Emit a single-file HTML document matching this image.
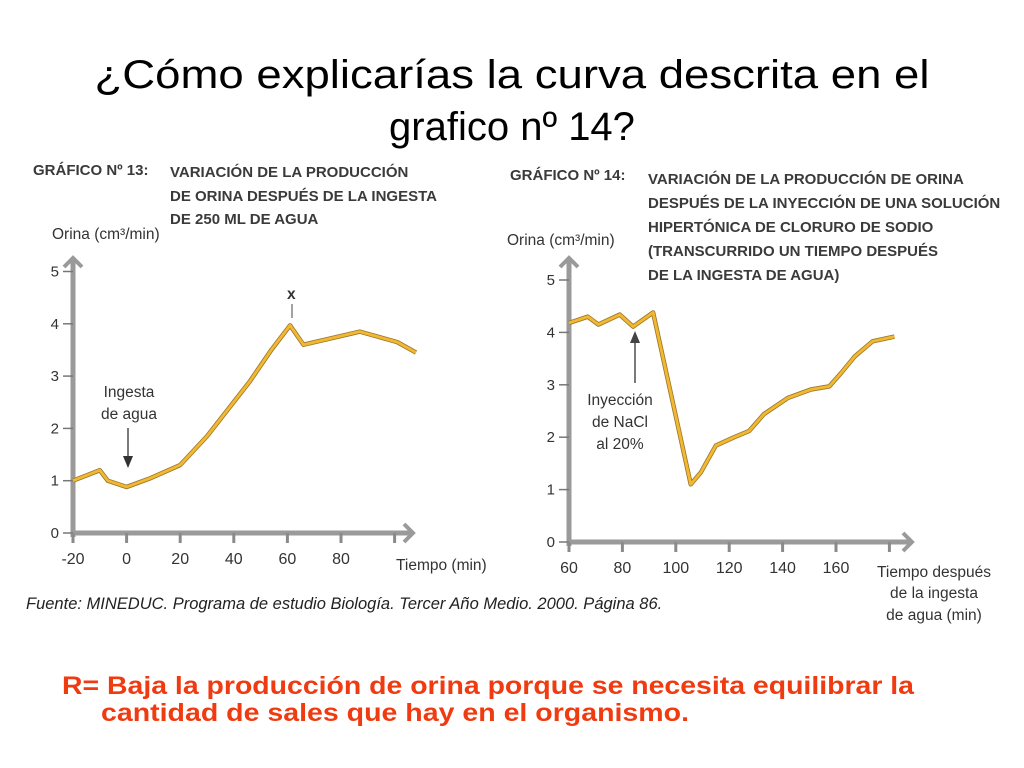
<!DOCTYPE html>
<html><head><meta charset="utf-8"><style>
body{margin:0;background:#fff;}
svg{display:block;font-family:"Liberation Sans",Arial,sans-serif;}
.lbl{font-size:15.5px;fill:#333;}
.hd{font-size:15px;font-weight:bold;fill:#3a3a3a;}
</style></head><body>
<svg id="s" width="1024" height="768">
<text x="512" y="88" text-anchor="middle" font-size="40" fill="#000" textLength="835" lengthAdjust="spacingAndGlyphs">¿Cómo explicarías la curva descrita en el</text>
<text x="512" y="140" text-anchor="middle" font-size="40" fill="#000">grafico nº 14?</text>

<g>
<text class="hd" x="33" y="175">GRÁFICO Nº 13:</text>
<text class="hd" x="170" y="177">VARIACIÓN DE LA PRODUCCIÓN</text>
<text class="hd" x="170" y="201">DE ORINA DESPUÉS DE LA INGESTA</text>
<text class="hd" x="170" y="224">DE 250 ML DE AGUA</text>
</g>
<text class="lbl" x="52" y="239">Orina (cm³/min)</text>
<g id="c13"></g>
<text class="lbl" x="396" y="570">Tiempo (min)</text>
<text class="lbl" x="287" y="299" font-weight="bold" font-size="14">x</text>
<line x1="292" y1="304" x2="292" y2="318" stroke="#444" stroke-width="1"/>
<text class="lbl" x="129" y="397" text-anchor="middle">Ingesta</text>
<text class="lbl" x="129" y="419" text-anchor="middle">de agua</text>
<line x1="128" y1="428" x2="128" y2="458" stroke="#333" stroke-width="1.3"/>
<polygon points="123,456 133,456 128,468" fill="#333"/>
<text x="26" y="609" font-size="16.5" font-style="italic" fill="#222">Fuente: MINEDUC. Programa de estudio Biología. Tercer Año Medio. 2000. Página 86.</text>

<g>
<text class="hd" x="510" y="180">GRÁFICO Nº 14:</text>
<text class="hd" x="648" y="184">VARIACIÓN DE LA PRODUCCIÓN DE ORINA</text>
<text class="hd" x="648" y="208">DESPUÉS DE LA INYECCIÓN DE UNA SOLUCIÓN</text>
<text class="hd" x="648" y="232">HIPERTÓNICA DE CLORURO DE SODIO</text>
<text class="hd" x="648" y="256">(TRANSCURRIDO UN TIEMPO DESPUÉS</text>
<text class="hd" x="648" y="280">DE LA INGESTA DE AGUA)</text>
</g>
<text class="lbl" x="507" y="245">Orina (cm³/min)</text>
<g id="c14"></g>
<text class="lbl" x="934" y="577" text-anchor="middle">Tiempo después</text>
<text class="lbl" x="934" y="598" text-anchor="middle">de la ingesta</text>
<text class="lbl" x="934" y="620" text-anchor="middle">de agua (min)</text>
<text class="lbl" x="620" y="405" text-anchor="middle">Inyección</text>
<text class="lbl" x="620" y="427" text-anchor="middle">de NaCl</text>
<text class="lbl" x="620" y="449" text-anchor="middle">al 20%</text>
<line x1="635" y1="340" x2="635" y2="383" stroke="#333" stroke-width="1.3"/>
<polygon points="630,343 640,343 635,331" fill="#444"/>

<text x="62" y="694" font-size="25" font-weight="bold" fill="#f03a10" textLength="852" lengthAdjust="spacingAndGlyphs">R= Baja la producción de orina porque se necesita equilibrar la</text>
<text x="101" y="721" font-size="25" font-weight="bold" fill="#f03a10" textLength="588" lengthAdjust="spacingAndGlyphs">cantidad de sales que hay en el organismo.</text>
</svg>
<script>
const t13 = [-20,-10,-7,0,9,20,30,46,54,61,66,87,101,108];
const v13 = [1.0,1.2,1.0,0.88,1.05,1.3,1.85,2.9,3.5,3.97,3.6,3.85,3.65,3.45];
const xt13 = [-20,0,20,40,60,80,100];
const xl13 = ["-20","0","20","40","60","80",""];
const t14 = [60,67,71,79,84,91.5,105.6,109.4,115,121.9,127.5,133,142,150.6,157.5,162,167,173.7,181.9];
const v14 = [4.18,4.3,4.15,4.34,4.11,4.38,1.1,1.33,1.84,2.0,2.12,2.44,2.75,2.91,2.97,3.23,3.54,3.83,3.92];
const xt14 = [60,80,100,120,140,160,180];
const xl14 = ["60","80","100","120","140","160",""];
const yt = [0,1,2,3,4,5];
const NS="http://www.w3.org/2000/svg";
function mk(g,tag,a,txt){const e=document.createElementNS(NS,tag);for(const k in a)e.setAttribute(k,a[k]);if(txt!==undefined)e.textContent=txt;g.appendChild(e);return e;}
function draw(id,ts,vs,xt,xl,o){
 const g=document.getElementById(id);
 const X=t=>o.x0+(t-o.t0)*o.sx, Y=v=>o.y0-v*o.sy;
 const ay=mk(g,'line',{x1:o.x0,y1:o.y0+4,x2:o.x0,y2:o.ytop,stroke:'#9a9a9a','stroke-width':5});
 
 mk(g,'polyline',{points:`${o.x0-9},${o.ytop+9} ${o.x0},${o.ytop} ${o.x0+9},${o.ytop+9}`,fill:'none',stroke:'#9a9a9a','stroke-width':4});
 const ax=mk(g,'line',{x1:o.x0-2,y1:o.y0,x2:o.xend,y2:o.y0,stroke:'#9a9a9a','stroke-width':5});
 
 mk(g,'polyline',{points:`${o.xend-9},${o.y0-9} ${o.xend},${o.y0} ${o.xend-9},${o.y0+9}`,fill:'none',stroke:'#9a9a9a','stroke-width':4});
 yt.forEach(v=>{mk(g,'line',{x1:o.x0-10,y1:Y(v),x2:o.x0,y2:Y(v),stroke:'#777','stroke-width':1.5});
  const tx=mk(g,'text',{x:o.x0-14,y:Y(v)+5,'text-anchor':'end','font-size':15,fill:'#333'},String(v));
  });
 xt.forEach((t,i)=>{mk(g,'line',{x1:X(t),y1:o.y0,x2:X(t),y2:o.y0+10,stroke:'#8a8a8a','stroke-width':3});
  const tx=mk(g,'text',{x:X(t),y:o.y0+31,'text-anchor':'middle','font-size':16,fill:'#333'},xl[i]);
  });
 const pts=ts.map((t,i)=>X(t)+','+Y(vs[i])).join(' ');
 mk(g,'polyline',{points:pts,fill:'none',stroke:'#9a7a30','stroke-width':4.5,'stroke-linejoin':'round'});
 const l=mk(g,'polyline',{points:pts,fill:'none',stroke:'#f4b830','stroke-width':2.8,'stroke-linejoin':'round'});
 
}
draw('c13',t13,v13,xt13,xl13,{x0:73,t0:-20,sx:2.68,y0:533,sy:52.3,ytop:258,xend:413});
draw('c14',t14,v14,xt14,xl14,{x0:569,t0:60,sx:2.67,y0:542,sy:52.4,ytop:258,xend:912});
</script>
</body></html>
